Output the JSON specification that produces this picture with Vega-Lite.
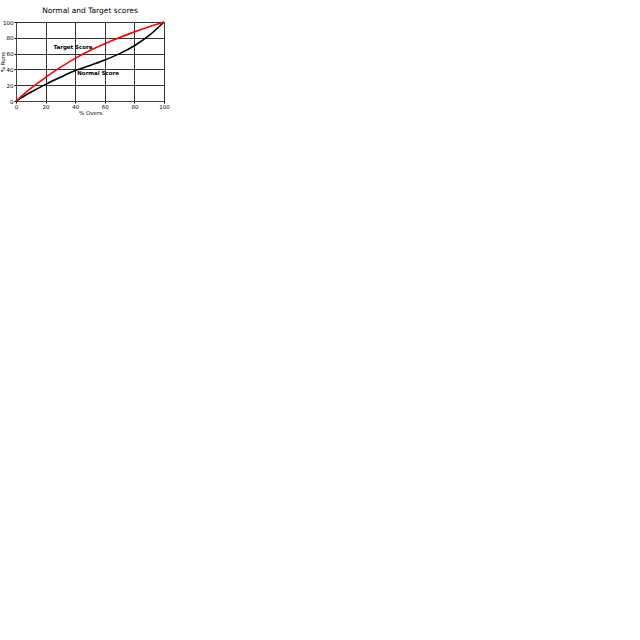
{
  "$schema": "https://vega.github.io/schema/vega-lite/v6.json",
  "width": 148,
  "height": 79,
  "padding": {"left": 0, "top": 7, "right": 5, "bottom": 5},
  "background": "white",
  "title": {"text": "Normal and Target scores", "font": "DejaVu Sans", "fontSize": 7.5, "fontWeight": "normal", "color": "black", "offset": 4},
  "config": {
    "view": {"stroke": "#444", "strokeWidth": 1},
    "axis": {"labelFont": "DejaVu Sans", "titleFont": "DejaVu Sans", "labelFontSize": 5.5, "titleFontSize": 5.5, "titleFontWeight": "normal", "labelColor": "black", "titleColor": "black", "tickColor": "black", "domainColor": "#444", "gridColor": "#333", "gridOpacity": 1, "gridWidth": 1, "tickSize": 2, "labelPadding": 1, "titlePadding": 1, "labelOverlap": false, "labelFlush": false, "tickCount": 6}
  },
  "data": {"values": [
    {"overs": 0, "runs": 0, "series": "Normal"},
    {"overs": 10, "runs": 11, "series": "Normal"},
    {"overs": 20, "runs": 21, "series": "Normal"},
    {"overs": 30, "runs": 30, "series": "Normal"},
    {"overs": 40, "runs": 38.5, "series": "Normal"},
    {"overs": 50, "runs": 45, "series": "Normal"},
    {"overs": 60, "runs": 52, "series": "Normal"},
    {"overs": 70, "runs": 60, "series": "Normal"},
    {"overs": 80, "runs": 70, "series": "Normal"},
    {"overs": 90, "runs": 83, "series": "Normal"},
    {"overs": 100, "runs": 100, "series": "Normal"},
    {"overs": 0, "runs": 0, "series": "Target"},
    {"overs": 10, "runs": 16, "series": "Target"},
    {"overs": 20, "runs": 30, "series": "Target"},
    {"overs": 30, "runs": 42.5, "series": "Target"},
    {"overs": 40, "runs": 54, "series": "Target"},
    {"overs": 50, "runs": 64, "series": "Target"},
    {"overs": 60, "runs": 72.5, "series": "Target"},
    {"overs": 70, "runs": 80.5, "series": "Target"},
    {"overs": 80, "runs": 87.5, "series": "Target"},
    {"overs": 90, "runs": 94, "series": "Target"},
    {"overs": 100, "runs": 100, "series": "Target"}
  ]},
  "layer": [
    {
      "mark": {"type": "line", "interpolate": "monotone", "strokeWidth": 1.6},
      "encoding": {
        "x": {"field": "overs", "type": "quantitative", "scale": {"domain": [0, 100], "nice": false}, "axis": {"title": "% Overs", "values": [0, 20, 40, 60, 80, 100], "tickCount": 6}},
        "y": {"field": "runs", "type": "quantitative", "scale": {"domain": [0, 100], "nice": false}, "axis": {"title": "% Runs", "values": [0, 20, 40, 60, 80, 100], "tickCount": 6, "titlePadding": -3}},
        "color": {"field": "series", "type": "nominal", "scale": {"domain": ["Normal", "Target"], "range": ["black", "red"]}, "legend": null}
      }
    },
    {
      "data": {"values": [
        {"overs": 38.5, "runs": 68, "label": "Target Score"},
        {"overs": 55.5, "runs": 35.5, "label": "Normal Score"}
      ]},
      "mark": {"type": "text", "font": "DejaVu Sans", "fontSize": 5.5, "fontWeight": "bold", "color": "black"},
      "encoding": {
        "x": {"field": "overs", "type": "quantitative"},
        "y": {"field": "runs", "type": "quantitative"},
        "text": {"field": "label"}
      }
    }
  ]
}
